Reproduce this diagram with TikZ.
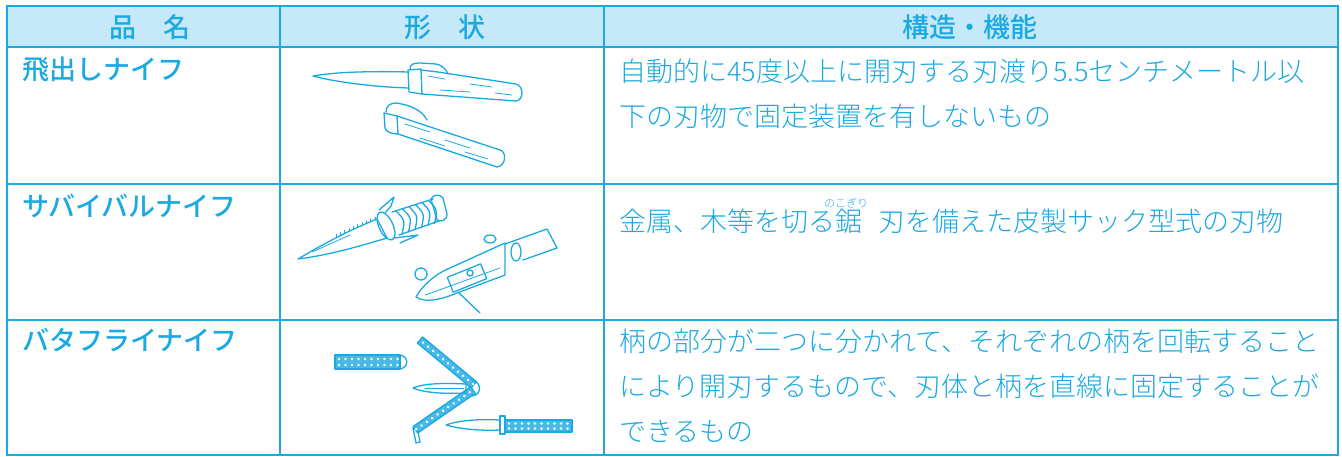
\documentclass[tikz,border=0pt]{standalone}
\usepackage{fontspec}
\setmainfont{Noto Sans CJK JP}
\newfontfamily\thinjp{Noto Sans CJK JP Light}
\newfontfamily\medjp{Noto Sans CJK JP Medium}
\usepackage{tikz}
\usetikzlibrary{positioning}
\definecolor{knifeblue}{HTML}{1BA9E1}
\definecolor{headfill}{HTML}{C6E9FA}
\tikzstyle{tablerule}=[draw=knifeblue, line width=1.6pt]
\tikzstyle{knifeline}=[draw=knifeblue, line width=1.3pt, line join=round, line cap=round]
\tikzstyle{thinline}=[draw=knifeblue, line width=0.8pt, line cap=round]
\tikzstyle{headtext}=[text=knifeblue, font=\medjp\fontsize{27}{32}\selectfont, inner sep=0pt]
\tikzstyle{itemname}=[text=knifeblue, font=\medjp\fontsize{27}{32}\selectfont, anchor=west, inner sep=0pt]
\tikzstyle{desctext}=[text=knifeblue, font=\thinjp\fontsize{27}{45}\selectfont, anchor=north west, align=left, inner sep=0pt]
\tikzstyle{rubytext}=[text=knifeblue, font=\thinjp\fontsize{11}{12}\selectfont, inner sep=0pt]
% grip with holes: length, half width, rows
\newcommand*{\gripbar}[3]{%
\draw[knifeline, fill=knifeblue!80] (0,-#2) rectangle (#1,#2);
\foreach \y in {#3} {
  \foreach \x in {4,10.5,...,#1} {
    \fill[white] (\x,\y) circle (1.4);
  }
}
}
\begin{document}
\begin{tikzpicture}[x=1pt,y=-1pt]
\useasboundingbox (0,0) rectangle (1342,456);

%header band
\fill[headfill] (7,6) rectangle (1338,47);

%table
\draw[tablerule] (7,6) rectangle (1338,455);
\foreach \y in {47,184,320} {
\draw[tablerule] (7,\y) -- (1338,\y);
}
\draw[tablerule] (280,6) -- (280,455);
\draw[tablerule] (604,6) -- (604,455);

%header texts
\node[headtext] (hname) at (150,27) {品　名};
\node[headtext] (hshape) at (445,27) {形　状};
\node[headtext] (hfunc) at (970,27) {構造・機能};

%item names
\node[itemname] (switch) at (22,69) {飛出しナイフ};
\node[itemname] (survival) at (22,206) {サバイバルナイフ};
\node[itemname] (butterfly) at (22,340) {バタフライナイフ};

%descriptions
\node[desctext] (switchdesc) at (619,59) {自動的に45度以上に開刃する刃渡り5.5センチメートル以\\下の刃物で固定装置を有しないもの};
\node[desctext] (survivaldesc) at (619,209) {金属、木等を切る鋸\hspace{0.6em}刃を備えた皮製サック型式の刃物};
\node[rubytext] (noko) at (846,203) {のこぎり};
\node[desctext] (butterflydesc) at (619,329) {柄の部分が二つに分かれて、それぞれの柄を回転すること\\により開刃するもので、刃体と柄を直線に固定することが\\できるもの};

%switchblade open: blade
\draw[knifeline] (409,72) .. controls (370,71) and (335,72) .. (313,76) .. controls (335,82) and (375,87) .. (409,88);
%bolster
\draw[knifeline] (408,70) -- (421,69) -- (422,94) -- (409,92) -- cycle;
%handle
\draw[knifeline] (421,70) -- (438,72) -- (516,84) .. controls (524,86) and (524,100) .. (516,101) -- (422,94);
\draw[knifeline] (410,69) .. controls (410,64) and (414,63) .. (420,63) -- (436,64) .. controls (442,65) and (446,69) .. (448,74);
\draw[thinline] (428,76) -- (445,79) (470,84) -- (492,87) (440,90) -- (470,92) (495,93) -- (512,95);

%switchblade closed
\draw[knifeline] (384,113) -- (397,116) -- (398,134) .. controls (392,134) and (386,132) .. (385,128) -- cycle;
\draw[knifeline] (386,112) .. controls (386,106) and (390,103) .. (396,103) .. controls (410,105) and (422,110) .. (427,120);
\draw[knifeline] (397,116) -- (500,150) .. controls (507,152) and (506,166) .. (497,167) -- (398,134);
\draw[thinline] (405,124) -- (430,132) (445,140) -- (470,148) (420,138) -- (445,146) (465,152) -- (488,159);

%survival knife: blade
\draw[knifeline] (298,259) .. controls (320,246) and (345,232) .. (377,219) -- (387,238) .. controls (360,246) and (330,255) .. cycle;
\foreach \i in {0,...,9} {
\draw[thinline] ({336+4.33*\i},{237-1.89*\i}) -- ++(0,-3);
}
\draw[thinline] (312,252) -- (350,235);
%guard
\draw[knifeline, rotate around={25:(386,226)}] (386,226) ellipse (7 and 15);
\draw[knifeline] (379,210) -- (394,197) -- (391,206) -- (385,213);
\draw[knifeline] (394,238) -- (418,235) -- (400,243);
%grip
\draw[knifeline] (392,212) -- (433,199) (399,235) -- (439,221);
\foreach \i in {0,...,5} {
\draw[knifeline] ({396+6.5*\i},{211-2.1*\i}) .. controls ({405+6.5*\i},{220-2.1*\i}) .. ({402+6.5*\i},{234-2.1*\i});
}
%pommel
\draw[knifeline] (431,199) .. controls (433,194) and (440,194) .. (443,198) -- (447,214) .. controls (447,221) and (440,222) .. (437,220) -- cycle;

%sheath
\draw[knifeline] (416,297) .. controls (422,286) and (435,274) .. (450,268) -- (505,243) -- (505,275) -- (457,293) .. controls (440,300) and (425,303) .. (416,297);
\draw[thinline] (425,295) .. controls (440,290) and (455,284) .. (500,268);
\draw[knifeline] (505,244) -- (547,229) -- (557,248) -- (523,260);
\draw[knifeline] (516,252) ellipse (5 and 9);
\draw[knifeline] (421,274) circle (6);
\draw[knifeline] (490,239) ellipse (6 and 4);
\draw[knifeline, rotate around={22:(467,278)}] (449,270) rectangle (485,286);
\draw[knifeline] (470,273) circle (3);
\draw[knifeline] (458,292) -- (480,313);

%butterfly: loose handle
\begin{scope}[shift={(335,362)}]
\gripbar{65}{7}{-3,3}
\draw[knifeline] (65,-7) .. controls (73,-6) and (75,5) .. (65,7);
\end{scope}
%open knife
\begin{scope}[shift={(420,340)}, rotate=-39.8]
\gripbar{70}{4}{0}
\end{scope}
\begin{scope}[shift={(473,390)}, rotate=-145.4]
\gripbar{70}{4}{0}
\end{scope}
\draw[knifeline] (413,428) -- (416,443) -- (420,442) -- (418,431);
\draw[knifeline] (413,388) .. controls (425,383) and (445,383) .. (466,384) -- (466,393) .. controls (445,394) and (425,393) .. cycle;
\draw[thinline] (425,388) -- (464,388);
\draw[knifeline] (472,380) .. controls (482,382) and (482,395) .. (472,396);
%closed knife
\draw[knifeline] (446,425) .. controls (460,420) and (480,419) .. (500,420) -- (500,430) .. controls (480,431) and (460,429) .. cycle;
\draw[knifeline] (500,416) rectangle (505,434);
\begin{scope}[shift={(505,426)}]
\gripbar{67}{6}{-2.5,2.5}
\end{scope}
\end{tikzpicture}
\end{document}
